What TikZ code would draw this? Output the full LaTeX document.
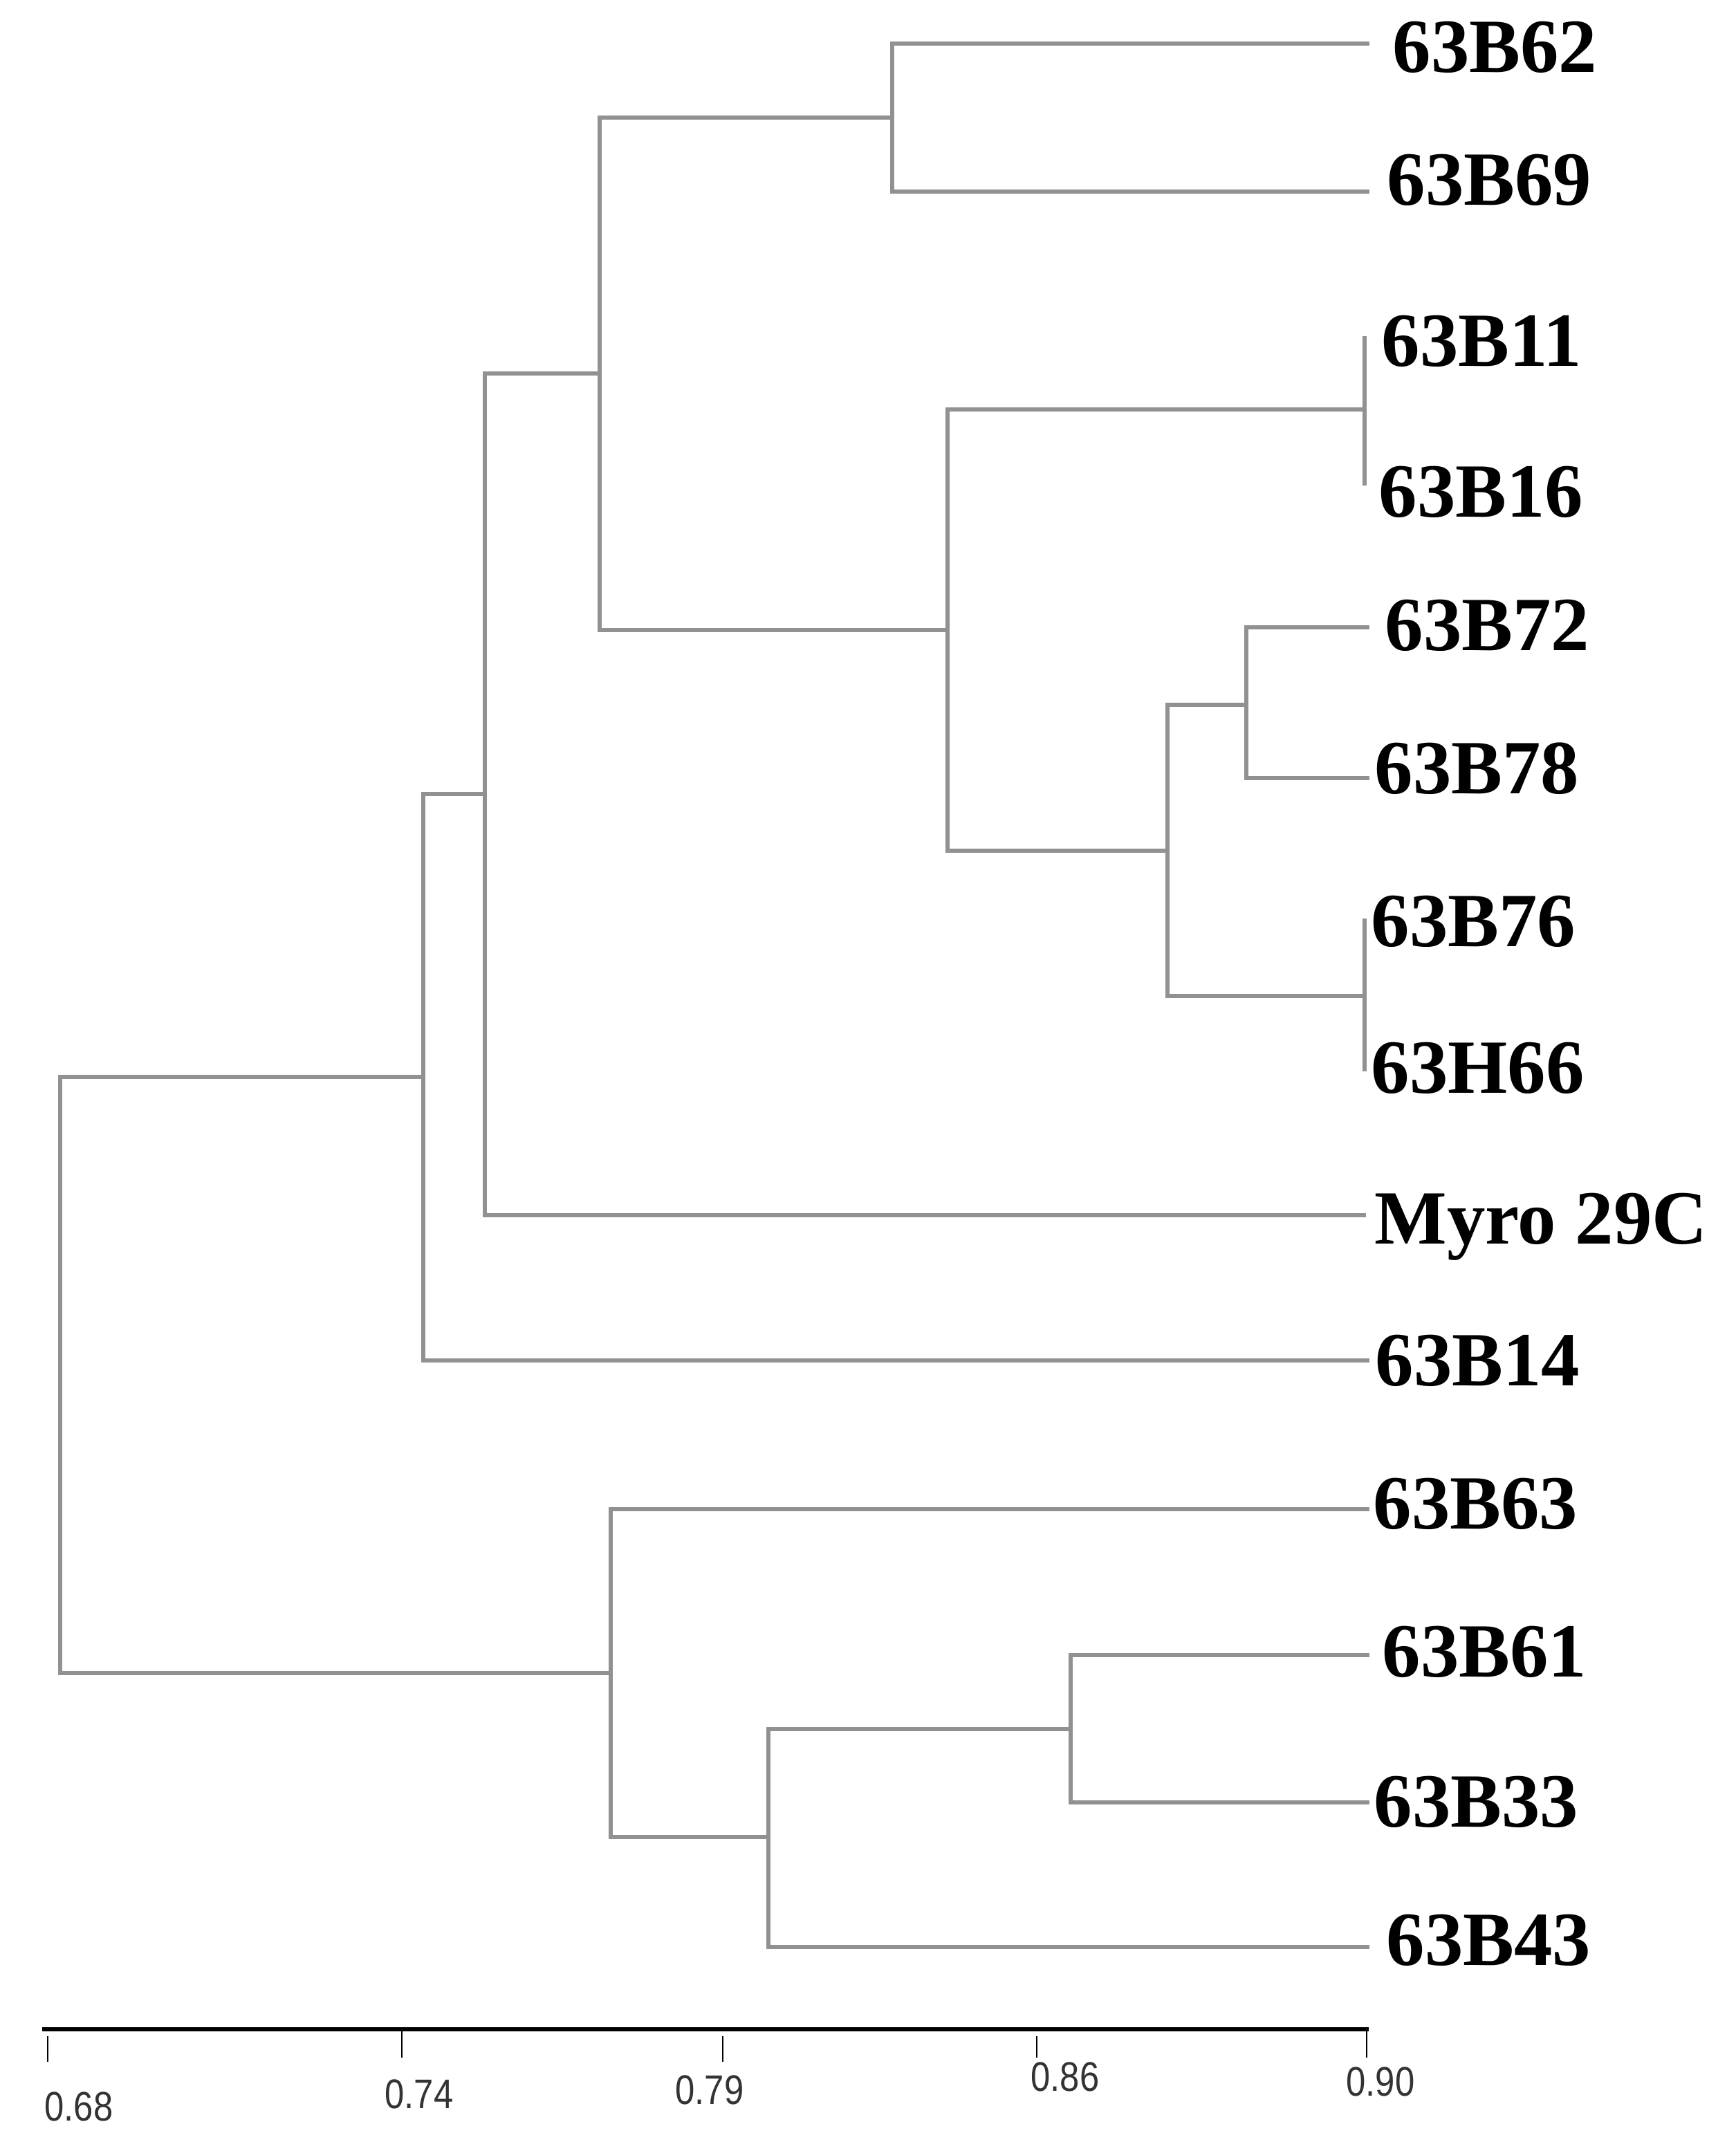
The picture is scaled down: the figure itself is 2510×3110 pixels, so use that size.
\documentclass[tikz,border=0pt]{standalone}
\usepackage{fontspec}
\setmainfont{Liberation Serif}
\newfontfamily\axisfont{Liberation Sans}
\definecolor{branch}{RGB}{145,145,145}
\begin{document}
\begin{tikzpicture}[x=0.01cm,y=-0.01cm,
  br/.style={draw=branch,line width=1.6pt,line cap=rect},
  leaf/.style={anchor=base west,inner sep=0pt,font=\bfseries\fontsize{31.5}{36}\selectfont},
  ticklab/.style={inner sep=0pt,xscale=0.85,text=black!80,font=\axisfont\fontsize{17}{20}\selectfont},
  tick/.style={draw=black,line width=0.8pt},
  axis/.style={draw=black,line width=1.6pt}]
\useasboundingbox (0,0) rectangle (2510,3110);
% leaf end points
\coordinate (e62) at (1977,63);
\coordinate (e69) at (1977,277);
\coordinate (e11) at (1973,489);
\coordinate (e16) at (1973,699);
\coordinate (e72) at (1977,907);
\coordinate (e78) at (1977,1125);
\coordinate (e76) at (1973,1331);
\coordinate (e66) at (1973,1546);
\coordinate (emy) at (1972,1757);
\coordinate (e14) at (1977,1967);
\coordinate (e63) at (1977,2182);
\coordinate (e61) at (1977,2393);
\coordinate (e33) at (1977,2606);
\coordinate (e43) at (1977,2815);
% internal nodes
\coordinate (d) at (1290,170);
\coordinate (f) at (1973,592);
\coordinate (h) at (1802,1019);
\coordinate (i) at (1973,1440);
\coordinate (g) at (1688,1230);
\coordinate (e) at (1370,911);
\coordinate (c) at (867,540);
\coordinate (b) at (701,1148);
\coordinate (a) at (612,1557);
\coordinate (l) at (1548,2500);
\coordinate (k) at (1111,2656);
\coordinate (j) at (883,2419);
\coordinate (r) at (87,1988);
% labels
\node[leaf] (t62) at (2013,105) {63B62};
\node[leaf] (t69) at (2005,297) {63B69};
\node[leaf] (t11) at (1997,530) {63B11};
\node[leaf] (t16) at (1993,748) {63B16};
\node[leaf] (t72) at (2002,940) {63B72};
\node[leaf] (t78) at (1987,1147) {63B78};
\node[leaf] (t76) at (1982,1368) {63B76};
\node[leaf] (t66) at (1982,1580) {63H66};
\node[leaf] (tmy) at (1987,1798) {Myro 29C};
\node[leaf] (t14) at (1988,2003) {63B14};
\node[leaf] (t63) at (1985,2210) {63B63};
\node[leaf] (t61) at (1998,2424) {63B61};
\node[leaf] (t33) at (1986,2641) {63B33};
\node[leaf] (t43) at (2004,2841) {63B43};
% branches
\draw[br] (d) |- (e62);
\draw[br] (d) |- (e69);
\draw[br] (f) -- (e11);
\draw[br] (f) -- (e16);
\draw[br] (h) |- (e72);
\draw[br] (h) |- (e78);
\draw[br] (i) -- (e76);
\draw[br] (i) -- (e66);
\draw[br] (g) |- (h);
\draw[br] (g) |- (i);
\draw[br] (e) |- (f);
\draw[br] (e) |- (g);
\draw[br] (c) |- (d);
\draw[br] (c) |- (e);
\draw[br] (b) |- (c);
\draw[br] (b) |- (emy);
\draw[br] (a) |- (b);
\draw[br] (a) |- (e14);
\draw[br] (l) |- (e61);
\draw[br] (l) |- (e33);
\draw[br] (k) |- (l);
\draw[br] (k) |- (e43);
\draw[br] (j) |- (e63);
\draw[br] (j) |- (k);
\draw[br] (r) |- (a);
\draw[br] (r) |- (j);
% axis
\coordinate (axl) at (61,2934);
\coordinate (axr) at (1979,2934);
\draw[axis] (axl) -- (axr);
\coordinate (k1) at (69,2944);   \coordinate (k1b) at (69,2981);
\coordinate (k2) at (581,2936);  \coordinate (k2b) at (581,2975);
\coordinate (k3) at (1045,2944); \coordinate (k3b) at (1045,2981);
\coordinate (k4) at (1499,2944); \coordinate (k4b) at (1499,2975);
\coordinate (k5) at (1976,2936); \coordinate (k5b) at (1976,2975);
\draw[tick] (k1) -- (k1b);
\draw[tick] (k2) -- (k2b);
\draw[tick] (k3) -- (k3b);
\draw[tick] (k4) -- (k4b);
\draw[tick] (k5) -- (k5b);
\node[ticklab] (l1) at (114,3046) {0.68};
\node[ticklab] (l2) at (606,3028) {0.74};
\node[ticklab] (l3) at (1026,3022) {0.79};
\node[ticklab] (l4) at (1540,3003) {0.86};
\node[ticklab] (l5) at (1996,3010) {0.90};
\end{tikzpicture}
\end{document}
